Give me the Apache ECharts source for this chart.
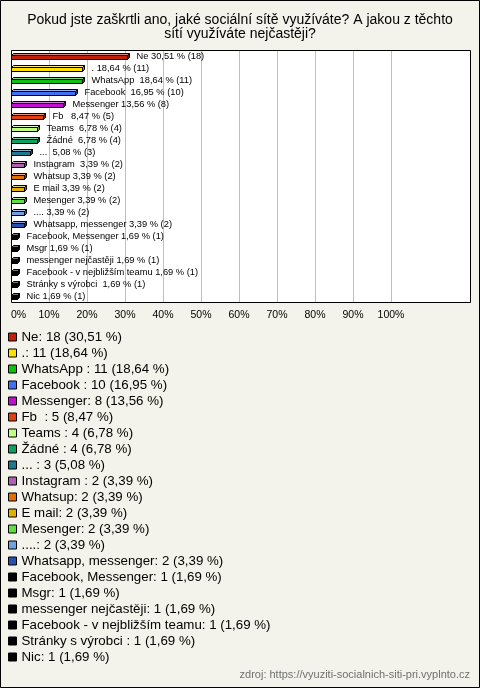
<!DOCTYPE html>
<html><head><meta charset="utf-8">
<script src="https://cdn.jsdelivr.net/npm/echarts@6/dist/echarts.min.js"></script>
<style>html,body{margin:0;padding:0;background:#F3F3EB}#c{width:480px;height:688px}</style>
</head><body><div id="c"></div>
<script>
const categories = ['Ne', '.', 'WhatsApp ', 'Facebook ', 'Messenger', 'Fb  ', 'Teams ', 'Žádné ', '... ', 'Instagram ', 'Whatsup', 'E mail', 'Mesenger', '....', 'Whatsapp, messenger', 'Facebook, Messenger', 'Msgr', 'messenger nejčastěji', 'Facebook - v nejbližším teamu', 'Stránky s výrobci ', 'Nic'];
const counts = [18, 11, 11, 10, 8, 5, 4, 4, 3, 2, 2, 2, 2, 2, 2, 1, 1, 1, 1, 1, 1];
const percents = [30.51, 18.64, 18.64, 16.95, 13.56, 8.47, 6.78, 6.78, 5.08, 3.39, 3.39, 3.39, 3.39, 3.39, 3.39, 1.69, 1.69, 1.69, 1.69, 1.69, 1.69];
const tickValues = [0, 10, 20, 30, 40, 50, 60, 70, 80, 90, 100];

const colors = ['#C0200A', '#FFE000', '#10C010', '#4070F0', '#C010D0', '#E04010', '#C0FF80', '#10A060', '#207890', '#B060B0', '#E07000', '#E0B000', '#60E040', '#70A0E0', '#2850B0', '#000000', '#000000', '#000000', '#000000', '#000000', '#000000'];
const FONT = '"Liberation Sans", Arial, sans-serif';

function fmt(v) { return v.toFixed(2).replace('.', ','); }
function mix(hex, t, target) {
  const n = parseInt(hex.slice(1), 16);
  const r = (n >> 16) & 255, g = (n >> 8) & 255, b = n & 255;
  const f = c => Math.round(c + (target - c) * t);
  return 'rgb(' + f(r) + ',' + f(g) + ',' + f(b) + ')';
}

function renderItem(params, api) {
  const v = api.value(0), idx = api.value(1);
  const p0 = api.coord([0, idx]);
  const p1 = api.coord([v, idx]);
  const i = params.seriesIndex;
  const col = colors[i];
  const x0 = Math.round(p0[0]) + 0.5, x1 = Math.round(p1[0]) + 0.5;
  const c = Math.round(p0[1]) + 0.5;
  const d = 2;
  const ft = c - 1, fb = c + 3;
  const lw = 1;
  return {
    type: 'group',
    children: [
      { type: 'rect', shape: { x: x0, y: ft, width: x1 - x0, height: fb - ft },
        style: { fill: col, stroke: '#000', lineWidth: lw } },
      { type: 'polygon', shape: { points: [[x0, ft], [x0 + d, ft - d], [x1 + d, ft - d], [x1, ft]] },
        style: { fill: mix(col, 0.45, 255), stroke: '#000', lineWidth: lw } },
      { type: 'polygon', shape: { points: [[x1, ft], [x1 + d, ft - d], [x1 + d, fb - d], [x1, fb]] },
        style: { fill: mix(col, 0.35, 0), stroke: '#000', lineWidth: lw } },
      { type: 'text', x: x1 + 9, y: c,
        style: { text: categories[i] + ' ' + fmt(percents[i]) + ' % (' + counts[i] + ')',
                 font: '9.3px ' + FONT, fill: '#000', verticalAlign: 'middle', align: 'left' } }
    ]
  };
}

const series = categories.map((name, i) => ({
  type: 'custom',
  name: name,
  itemStyle: { color: colors[i] },
  encode: { x: 0, y: 1 },
  data: [[percents[i], i]],
  renderItem: renderItem,
  clip: false,
  silent: true
}));

const chart = echarts.init(document.getElementById('c'), null, { renderer: 'canvas' });
chart.setOption({
  backgroundColor: '#F3F3EB',
  animation: false,
  title: [
    { text: 'Pokud jste zaškrtli ano, jaké sociální sítě využíváte? A jakou z těchto\nsítí využíváte nejčastěji?',
      left: 'center', top: 13, padding: 0,
      textStyle: { fontFamily: FONT, fontSize: 14, lineHeight: 14, fontWeight: 'normal', color: '#000', align: 'center' } },
    { text: 'zdroj: https://vyuziti-socialnich-siti-pri.vyplnto.cz', right: 10, top: 669, padding: 0,
      textStyle: { fontFamily: FONT, fontSize: 11, lineHeight: 12, fontWeight: 'normal', color: '#707070' } }
  ],
  graphic: [
    { type: 'rect', z: -10, silent: true, shape: { x: 11.5, y: 50.5, width: 459, height: 252 },
      style: { fill: '#fff' } },
    { type: 'rect', z: 100, silent: true, shape: { x: 11.5, y: 50.5, width: 459, height: 252 },
      style: { fill: 'none', stroke: '#000', lineWidth: 1 } },
    { type: 'rect', z: 100, silent: true, shape: { x: 0.5, y: 0.5, width: 479, height: 687 },
      style: { fill: 'none', stroke: '#000', lineWidth: 1 } }
  ],
  grid: { left: 11, right: 89, top: 50, height: 252, containLabel: false },
  xAxis: {
    type: 'value', min: 0, max: 100, interval: 10,
    axisLine: { show: false }, axisTick: { show: false },
    splitLine: { show: true, lineStyle: { color: '#C0C0C0', width: 1 } },
    axisLabel: { formatter: v => tickValues.includes(v) ? v + '%' : '', fontFamily: FONT, fontSize: 10.5, color: '#000', margin: 8, alignMinLabel: 'left' }
  },
  yAxis: {
    type: 'category', inverse: true, data: categories,
    axisLine: { show: false }, axisTick: { show: false }, axisLabel: { show: false }, splitLine: { show: false }
  },
  legend: {
    orient: 'vertical', left: 8, top: 329, padding: 0, itemGap: 0,
    itemWidth: 8, itemHeight: 8, icon: 'rect', selectedMode: false,
    itemStyle: { borderColor: '#000', borderWidth: 1 },
    data: categories,
    formatter: name => { const i = categories.indexOf(name); return name + ': ' + counts[i] + ' (' + fmt(percents[i]) + ' %)'; },
    textStyle: { fontFamily: FONT, fontSize: 13.3, lineHeight: 16, color: '#000' }
  },
  series: series
});
</script></body></html>
